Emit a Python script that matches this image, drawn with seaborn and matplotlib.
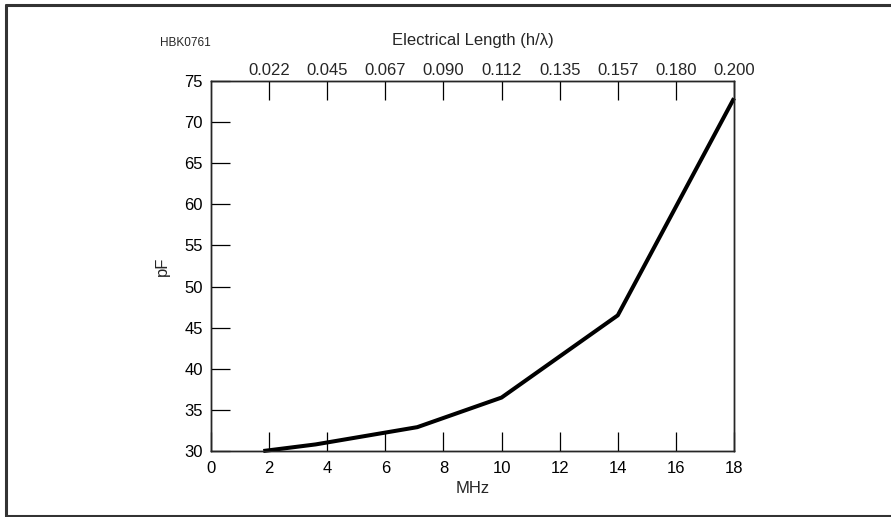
import matplotlib
matplotlib.use("Agg")
import matplotlib.pyplot as plt
import seaborn as sns
import pandas as pd
from matplotlib.lines import Line2D

# Data
mhz = [1.8, 3.6, 7.1, 10.0, 14.0, 18.0]
pf = [30.0, 30.8, 32.9, 36.5, 46.5, 72.9]
bottom_ticks = [0, 2, 4, 6, 8, 10, 12, 14, 16, 18]
top_tick_pos = [2, 4, 6, 8, 10, 12, 14, 16, 18]
top_tick_labels = ["0.022", "0.045", "0.067", "0.090", "0.112", "0.135", "0.157", "0.180", "0.200"]
y_ticks = [30, 35, 40, 45, 50, 55, 60, 65, 70, 75]

sns.set_style("ticks")
plt.rcParams['font.family'] = ['Liberation Sans', 'DejaVu Sans']

FS = 12
W, H = 891, 517
fig = plt.figure(figsize=(W / 100, H / 100), dpi=100)
L, R, T, B = 211, 734, 81, 451
ax = fig.add_axes([L / W, 1 - B / H, (R - L) / W, (B - T) / H])

df = pd.DataFrame({"MHz": mhz, "pF": pf})
sns.lineplot(data=df, x="MHz", y="pF", ax=ax, color="black", lw=2.9,
             solid_capstyle="butt", clip_on=False)

ax.set_xlim(0, 18)
ax.set_ylim(30, 75)
ax.set_xticks(bottom_ticks)
ax.set_yticks(y_ticks)
for s in ax.spines.values():
    s.set_linewidth(1.0)
    s.set_color("black")
ax.tick_params(axis="both", direction="in", length=13.7, width=0.9, color="black",
               labelsize=FS, labelcolor="black")
ax.tick_params(axis="x", pad=7)
ax.tick_params(axis="y", pad=6)
ax.set_xlabel("MHz", fontsize=FS, labelpad=3.5)
ax.set_ylabel("pF", fontsize=FS, labelpad=10)

ax2 = ax.twiny()
ax2.set_xlim(0, 18)
ax2.set_xticks(top_tick_pos)
ax2.set_xticklabels(top_tick_labels)
ax2.tick_params(axis="x", direction="in", length=13.7, width=0.9, color="black",
                labelsize=FS, pad=2.5)
ax2.set_xlabel("Electrical Length (h/λ)", fontsize=FS, labelpad=12.5)
for s in ax2.spines.values():
    s.set_linewidth(1.0)

fig.text(185 / W, 1 - 43 / H, "HBK0761", fontsize=8.5, ha="center", va="center")

# outer frame (top, left, bottom)
fc = "#333333"
fig.add_artist(Line2D([6 / W, 1.0], [1 - 5 / H, 1 - 5 / H], color=fc, lw=2.2, transform=fig.transFigure))
fig.add_artist(Line2D([6 / W, 6 / W], [1 - 5 / H, 1 - 515.5 / H], color=fc, lw=2.2, transform=fig.transFigure))
fig.add_artist(Line2D([6 / W, 1.0], [1 - 515.5 / H, 1 - 515.5 / H], color=fc, lw=2.2, transform=fig.transFigure))

fig.savefig("out.png", dpi=100)
